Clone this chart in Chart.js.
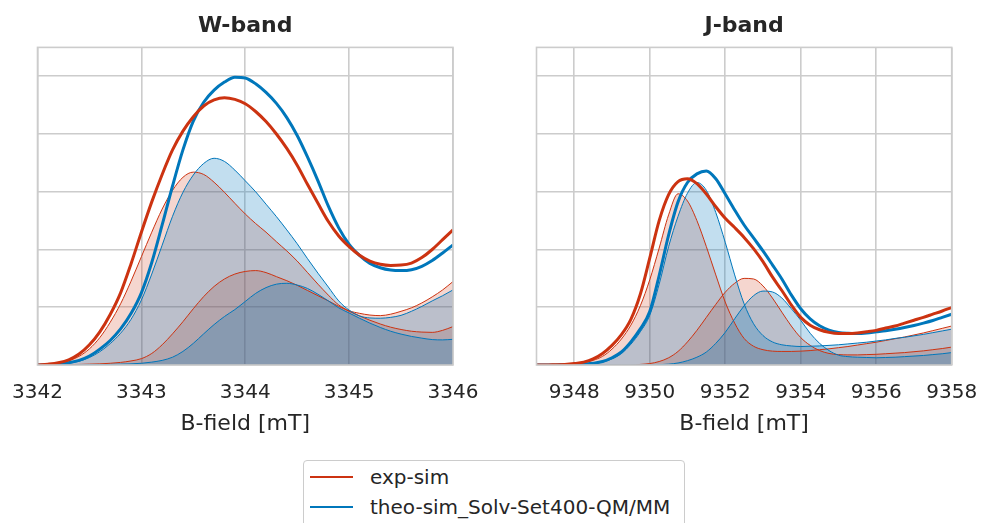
<!DOCTYPE html>
<html>
<head>
<meta charset="utf-8">
<title>W-band / J-band</title>
<script src="https://cdn.jsdelivr.net/npm/chart.js@4.4.0/dist/chart.umd.min.js"></script>
<style>
  body { margin: 0; background: #fff; }
  #wrap { position: relative; width: 981px; height: 523px; overflow: hidden; background: #fff;
          font-family: "DejaVu Sans", sans-serif; color: #262626; }
  #wCanvas { position: absolute; left: 0; top: 0; }
  #jCanvas { position: absolute; left: 490px; top: 0; }
  #legend { position: absolute; left: 303px; top: 460px; width: 382px; height: 80px;
            border: 1px solid #cccccc; border-radius: 4px; box-sizing: border-box; background: #fff; }
  .item { position: absolute; left: 0; height: 30px; display: flex; align-items: center; font-size: 20px; white-space: nowrap; }
  .swatch { width: 43px; height: 0; border-top: 2.5px solid; margin-left: 6px; margin-right: 17px; }
</style>
</head>
<body>
<div id="wrap">
  <canvas id="wCanvas" width="490" height="445"></canvas>
  <canvas id="jCanvas" width="491" height="445"></canvas>
  <div id="legend"></div>
</div>
<script>
// series names + colours
const seriesNames = ['exp-sim', 'theo-sim_Solv-Set400-QM/MM'];
const seriesColors = ['#cc3311', '#0077bb'];
const seriesFills = ['rgba(204, 51, 17, 0.2)', 'rgba(0, 119, 187, 0.24)'];

// W-band field axis (mT)
const wField = [3342.0, 3342.1, 3342.2, 3342.3, 3342.4, 3342.5, 3342.6, 3342.7, 3342.8, 3342.9,
                3343.0, 3343.1, 3343.2, 3343.3, 3343.4, 3343.5, 3343.6, 3343.7, 3343.8, 3343.9,
                3344.0, 3344.1, 3344.2, 3344.3, 3344.4, 3344.5, 3344.6, 3344.7, 3344.8, 3344.9,
                3345.0, 3345.1, 3345.2, 3345.3, 3345.4, 3345.5, 3345.6, 3345.7, 3345.8, 3345.9, 3346.0];
const wTicks = [3342, 3343, 3344, 3345, 3346];

// W-band spectra (normalised)
const wExpTotal = [0.000, 0.003, 0.008, 0.018, 0.038, 0.070, 0.115, 0.175, 0.250, 0.350,
                   0.460, 0.565, 0.660, 0.745, 0.810, 0.860, 0.897, 0.918, 0.926, 0.920,
                   0.905, 0.878, 0.843, 0.800, 0.750, 0.692, 0.625, 0.560, 0.497, 0.447,
                   0.410, 0.380, 0.360, 0.349, 0.345, 0.346, 0.353, 0.372, 0.400, 0.434, 0.468];
const wTheoTotal = [0.000, 0.001, 0.003, 0.008, 0.016, 0.031, 0.055, 0.085, 0.125, 0.178,
                    0.250, 0.355, 0.485, 0.620, 0.745, 0.845, 0.910, 0.952, 0.980, 0.997,
                    0.994, 0.974, 0.944, 0.906, 0.857, 0.795, 0.720, 0.638, 0.550, 0.475,
                    0.418, 0.380, 0.352, 0.337, 0.329, 0.327, 0.330, 0.342, 0.362, 0.388, 0.416];
const wExpComp1 = [0.000, 0.002, 0.006, 0.014, 0.030, 0.056, 0.095, 0.148, 0.212, 0.290,
                   0.375, 0.460, 0.540, 0.605, 0.650, 0.668, 0.660, 0.633, 0.598, 0.560,
                   0.523, 0.490, 0.460, 0.427, 0.395, 0.360, 0.320, 0.280, 0.242, 0.208,
                   0.188, 0.179, 0.173, 0.171, 0.176, 0.186, 0.198, 0.215, 0.236, 0.260, 0.289];
const wExpComp2 = [0.000, 0.000, 0.001, 0.001, 0.002, 0.003, 0.004, 0.006, 0.009, 0.014,
                   0.022, 0.040, 0.070, 0.108, 0.150, 0.195, 0.237, 0.272, 0.298, 0.315,
                   0.324, 0.327, 0.320, 0.306, 0.292, 0.276, 0.258, 0.240, 0.222, 0.203,
                   0.186, 0.170, 0.155, 0.142, 0.131, 0.123, 0.117, 0.114, 0.113, 0.120, 0.133];
const wTheoComp1 = [0.000, 0.001, 0.002, 0.006, 0.013, 0.026, 0.046, 0.074, 0.110, 0.158,
                    0.225, 0.315, 0.415, 0.515, 0.598, 0.658, 0.698, 0.716, 0.705, 0.675,
                    0.638, 0.600, 0.557, 0.514, 0.468, 0.420, 0.368, 0.318, 0.270, 0.222,
                    0.190, 0.170, 0.163, 0.162, 0.165, 0.172, 0.186, 0.203, 0.222, 0.240, 0.260];
const wTheoComp2 = [0.000, 0.000, 0.000, 0.000, 0.000, 0.001, 0.001, 0.002, 0.003, 0.004,
                    0.006, 0.010, 0.016, 0.027, 0.047, 0.075, 0.108, 0.140, 0.168, 0.192,
                    0.220, 0.248, 0.268, 0.280, 0.283, 0.277, 0.265, 0.245, 0.222, 0.198,
                    0.180, 0.162, 0.145, 0.130, 0.117, 0.107, 0.099, 0.093, 0.088, 0.087, 0.089];

// J-band field axis (mT)
const jField = [9347.0, 9347.25, 9347.5, 9347.75, 9348.0, 9348.25, 9348.5, 9348.75, 9349.0, 9349.25,
                9349.5, 9349.75, 9350.0, 9350.25, 9350.5, 9350.75, 9351.0, 9351.25, 9351.5, 9351.75,
                9352.0, 9352.25, 9352.5, 9352.75, 9353.0, 9353.25, 9353.5, 9353.75, 9354.0, 9354.25,
                9354.5, 9354.75, 9355.0, 9355.25, 9355.5, 9355.75, 9356.0, 9356.25, 9356.5, 9356.75,
                9357.0, 9357.25, 9357.5, 9357.75, 9358.0];
const jTicks = [9348, 9350, 9352, 9354, 9356, 9358];

// J-band spectra (normalised)
const jExpTotal = [0.000, 0.000, 0.001, 0.002, 0.005, 0.010, 0.021, 0.040, 0.068, 0.105,
                   0.158, 0.245, 0.370, 0.500, 0.590, 0.635, 0.645, 0.628, 0.592, 0.548,
                   0.508, 0.476, 0.442, 0.403, 0.358, 0.305, 0.258, 0.208, 0.165, 0.138,
                   0.122, 0.113, 0.109, 0.109, 0.111, 0.115, 0.120, 0.128, 0.135, 0.145,
                   0.155, 0.165, 0.176, 0.187, 0.199];
const jTheoTotal = [0.000, 0.000, 0.000, 0.001, 0.001, 0.003, 0.006, 0.012, 0.025, 0.045,
                    0.080, 0.125, 0.185, 0.310, 0.450, 0.565, 0.632, 0.662, 0.672, 0.645,
                    0.592, 0.537, 0.485, 0.440, 0.395, 0.347, 0.298, 0.243, 0.195, 0.160,
                    0.136, 0.121, 0.113, 0.110, 0.109, 0.111, 0.115, 0.119, 0.124, 0.130,
                    0.137, 0.145, 0.154, 0.165, 0.176];
const jExpComp1 = [0.000, 0.000, 0.001, 0.002, 0.004, 0.008, 0.016, 0.030, 0.055, 0.090,
                   0.138, 0.205, 0.295, 0.405, 0.520, 0.593, 0.568, 0.500, 0.410, 0.312,
                   0.218, 0.145, 0.092, 0.065, 0.053, 0.048, 0.047, 0.047, 0.048, 0.050,
                   0.053, 0.056, 0.060, 0.064, 0.069, 0.074, 0.079, 0.085, 0.091, 0.097,
                   0.104, 0.111, 0.119, 0.127, 0.135];
const jExpComp2 = [0.000, 0.000, 0.000, 0.000, 0.000, 0.000, 0.000, 0.000, 0.000, 0.000,
                   0.000, 0.002, 0.005, 0.012, 0.025, 0.047, 0.080, 0.120, 0.165, 0.210,
                   0.252, 0.283, 0.300, 0.298, 0.274, 0.232, 0.183, 0.135, 0.095, 0.068,
                   0.050, 0.040, 0.036, 0.035, 0.035, 0.036, 0.037, 0.039, 0.041, 0.043,
                   0.046, 0.049, 0.053, 0.057, 0.062];
const jTheoComp1 = [0.000, 0.000, 0.000, 0.000, 0.001, 0.002, 0.005, 0.010, 0.021, 0.040,
                    0.072, 0.115, 0.172, 0.280, 0.410, 0.515, 0.595, 0.632, 0.605, 0.528,
                    0.425, 0.312, 0.212, 0.143, 0.102, 0.080, 0.070, 0.066, 0.064, 0.065,
                    0.066, 0.068, 0.070, 0.073, 0.076, 0.079, 0.083, 0.087, 0.092, 0.096,
                    0.101, 0.106, 0.112, 0.118, 0.124];
const jTheoComp2 = [0.000, 0.000, 0.000, 0.000, 0.000, 0.000, 0.000, 0.000, 0.000, 0.000,
                    0.000, 0.000, 0.000, 0.001, 0.003, 0.007, 0.015, 0.027, 0.045, 0.075,
                    0.113, 0.160, 0.205, 0.240, 0.256, 0.253, 0.232, 0.195, 0.155, 0.110,
                    0.075, 0.050, 0.034, 0.029, 0.027, 0.026, 0.025, 0.026, 0.027, 0.029,
                    0.031, 0.033, 0.036, 0.039, 0.043];

const yGrid = [0, 0.2, 0.4, 0.6, 0.8, 1.0];

Chart.defaults.font.family = '"DejaVu Sans", sans-serif';
Chart.defaults.color = '#262626';

// light grey box round the plot area
const frameBox = {
  id: 'frameBox',
  afterDatasetsDraw(chart) {
    const a = chart.chartArea;
    const c = chart.ctx;
    c.save();
    c.strokeStyle = '#cccccc';
    c.lineWidth = 1.6;
    c.strokeRect(a.left, a.top, a.right - a.left, a.bottom - a.top);
    c.restore();
  }
};

function toPoints(xs, ys) {
  return xs.map((x, i) => ({ x: x, y: ys[i] }));
}

function totalLine(label, xs, ys, idx) {
  return {
    label: label,
    data: toPoints(xs, ys),
    borderColor: seriesColors[idx],
    borderWidth: 3,
    fill: false
  };
}

function component(xs, ys, idx) {
  return {
    data: toPoints(xs, ys),
    borderColor: seriesColors[idx],
    backgroundColor: seriesFills[idx],
    borderWidth: 1,
    fill: 'origin'
  };
}

function bandChart(canvasId, title, xs, totals, comps, xMin, xMax, xTicks, padLeft, padRight) {
  // first dataset ends up on top, so the blue components are painted after the red ones
  const datasets = [
    totalLine(seriesNames[0], xs, totals[0], 0),
    totalLine(seriesNames[1], xs, totals[1], 1),
    component(xs, comps[2], 1),
    component(xs, comps[3], 1),
    component(xs, comps[0], 0),
    component(xs, comps[1], 0)
  ];
  return new Chart(document.getElementById(canvasId), {
    type: 'line',
    data: { datasets: datasets },
    options: {
      responsive: false,
      animation: false,
      elements: {
        point: { radius: 0 },
        line: { cubicInterpolationMode: 'monotone' }
      },
      layout: { padding: { left: padLeft, right: padRight, top: 0, bottom: 0 } },
      plugins: {
        legend: { display: false },
        tooltip: { enabled: false },
        // all shaded areas first, every line on top of them
        filler: { drawTime: 'beforeDatasetsDraw' },
        title: {
          display: true,
          text: title,
          font: { size: 22, weight: 'bold' },
          color: '#262626',
          padding: { top: 13, bottom: 8 }
        }
      },
      scales: {
        x: {
          type: 'linear',
          min: xMin,
          max: xMax,
          afterBuildTicks: (scale) => { scale.ticks = xTicks.map(v => ({ value: v })); },
          afterFit: (scale) => { scale.height = 80; },
          ticks: {
            // tall line box pushes the labels down without widening the side padding
            font: { size: 20, lineHeight: 2.8 },
            color: '#262626',
            padding: 0,
            maxRotation: 0,
            autoSkip: false,
            callback: (v) => String(v)
          },
          grid: { color: '#cccccc', lineWidth: 1.6, drawTicks: false },
          border: { display: false },
          title: {
            display: true,
            text: 'B-field [mT]',
            font: { size: 22 },
            color: '#262626',
            padding: { top: 0, bottom: 8 }
          }
        },
        y: {
          min: 0,
          max: 1.1,
          afterBuildTicks: (scale) => { scale.ticks = yGrid.map(v => ({ value: v })); },
          afterFit: (scale) => { scale.width = 0; },
          ticks: { display: false },
          grid: { color: '#cccccc', lineWidth: 1.6, drawTicks: false },
          border: { display: false }
        }
      }
    },
    plugins: [frameBox]
  });
}

bandChart('wCanvas', 'W-band', wField,
  [wExpTotal, wTheoTotal], [wExpComp1, wExpComp2, wTheoComp1, wTheoComp2],
  3342, 3346, wTicks, 37.5, 37);

bandChart('jCanvas', 'J-band', jField,
  [jExpTotal, jTheoTotal], [jExpComp1, jExpComp2, jTheoComp1, jTheoComp2],
  9347, 9358, jTicks, 46.5, 29.3);

// shared legend under both panels
const legendBox = document.getElementById('legend');
seriesNames.forEach((name, i) => {
  const row = document.createElement('div');
  row.className = 'item';
  row.style.top = (1 + i * 30) + 'px';
  const sw = document.createElement('span');
  sw.className = 'swatch';
  sw.style.borderTopColor = seriesColors[i];
  const txt = document.createElement('span');
  txt.textContent = name;
  row.appendChild(sw);
  row.appendChild(txt);
  legendBox.appendChild(row);
});
</script>
</body>
</html>
